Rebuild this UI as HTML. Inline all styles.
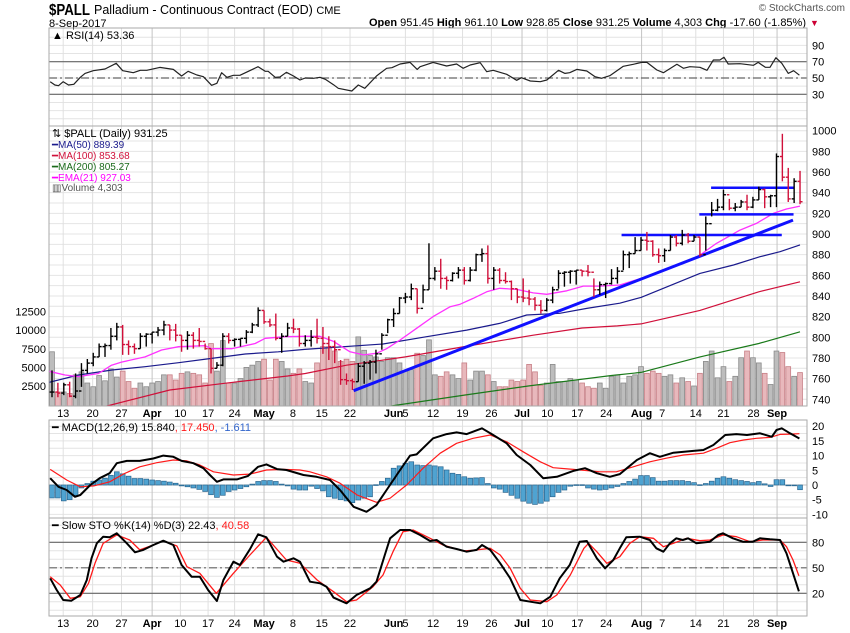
<!DOCTYPE html>
<html><head><meta charset="utf-8"><style>
body{margin:0;background:#fff}
svg{display:block;font-family:"Liberation Sans",sans-serif}
</style></head><body>
<svg id="chart" width="850" height="633" viewBox="0 0 850 633" xmlns="http://www.w3.org/2000/svg">
<defs>
<clipPath id="cpMain"><rect x="49" y="126" width="758" height="280"/></clipPath>
<clipPath id="cpRsi"><rect x="49" y="28" width="758" height="98"/></clipPath>
<clipPath id="cpMacd"><rect x="49" y="420" width="758" height="98"/></clipPath>
<clipPath id="cpSto"><rect x="49" y="518" width="758" height="98"/></clipPath>
</defs>
<text x="49" y="15" font-size="16" font-weight="bold" textLength="41" lengthAdjust="spacingAndGlyphs">$PALL</text>
<text x="94" y="14" font-size="12.5">Palladium - Continuous Contract (EOD) <tspan font-size="11">CME</tspan></text>
<text x="49" y="27" font-size="11">8-Sep-2017</text>
<text x="845" y="11" font-size="10" text-anchor="end" fill="#555">© StockCharts.com</text>
<text x="806" y="26" font-size="11" text-anchor="end"><tspan font-weight="bold">Open</tspan> 951.45 <tspan font-weight="bold">High</tspan> 961.10 <tspan font-weight="bold">Low</tspan> 928.85 <tspan font-weight="bold">Close</tspan> 931.25 <tspan font-weight="bold">Volume</tspan> 4,303 <tspan font-weight="bold">Chg</tspan> -17.60 (-1.85%)</text>
<text x="810" y="26" font-size="9" fill="#cc0033">▼</text>
<g id="grid"></g>
<g id="marks"></g>
<g id="frames"></g>
<g id="labels"></g>
</svg>
<script>
const closes=[747,746,754,743,748,768,775,781,791,792,801,810,793,791,789,801,803,805,807,812,807,802,797,802,797,796,789,770,773,801,797,798,799,805,812,826,815,812,799,801,809,808,794,797,800,799,794,791,788,759,758,757,772,775,776,784,802,817,823,838,839,847,828,846,857,864,857,855,862,865,855,865,880,881,857,865,855,854,847,839,838,837,831,826,836,846,862,863,864,865,864,863,846,851,852,857,864,880,881,884,894,893,880,879,884,897,891,899,893,897,880,910,923,926,938,925,926,931,926,933,943,936,937,975,955,934,951,931.25];
const highs=[768,756,756,757,765,775,779,785,794,794,809,814,812,797,794,804,804,805,810,816,812,813,802,806,805,809,794,789,776,804,804,799,799,807,814,829,826,818,823,804,814,818,809,802,807,818,810,801,797,778,765,760,775,777,778,788,804,818,828,839,843,852,847,851,891,868,876,859,863,868,868,868,881,886,889,868,867,863,855,847,857,846,839,836,838,849,865,864,865,865,865,870,857,854,853,866,868,884,883,897,897,902,894,886,886,899,899,904,901,899,897,917,931,934,943,934,930,933,938,936,946,944,938,978,997,964,954,961.1];
const lows=[742,742,744,742,741,752,765,772,781,781,788,797,783,783,784,789,791,794,801,802,797,796,786,788,789,791,788,765,770,772,794,791,791,794,804,810,813,810,797,785,801,804,791,791,791,794,784,778,775,754,754,749,757,755,759,765,788,804,810,823,833,836,823,833,846,855,847,846,854,857,851,854,864,873,852,846,852,852,836,833,834,831,826,823,825,833,847,849,852,851,859,859,839,841,838,851,852,865,867,881,884,884,878,872,873,884,888,889,891,893,878,884,917,922,923,923,922,926,923,925,933,925,926,926,951,931,930,928.85];
const volumes=[7100,1700,1700,1500,4000,4400,2900,2400,3900,3200,4800,3700,4500,3100,2200,2900,2400,2900,3100,4000,4000,3300,4200,4400,4200,4000,2900,8200,4500,8600,2900,2900,3500,5000,5300,5800,6100,3300,6100,5800,4800,4200,4800,3100,2900,5600,7800,7800,7200,5800,6100,5800,9100,7300,6600,6400,5800,6300,6300,5600,4500,4700,6900,6600,8700,4000,3800,4400,4000,3500,5600,3300,4500,4500,4000,3100,2400,2400,3300,3100,3300,5400,4400,2600,2900,5400,3100,3100,3500,3300,2900,2400,2200,2900,2200,3800,4000,2900,3800,4000,5100,4200,4500,4200,3800,4000,2900,3600,3100,2500,4200,5800,7200,3600,5100,3100,3800,6300,7200,6300,5600,4200,2700,7200,7000,5100,3800,4303];
const ma50=[[-1.2,755.4],[4.5,763.5],[10.2,768.3],[15.8,771.5],[21.5,775.4],[27.1,779.6],[32.8,783.8],[38.4,786],[42.9,788.3],[56.2,793.5],[63.6,800.6],[70.4,807],[76,813.5],[80.6,821.6],[86.2,823.2],[90.8,828],[96.4,833],[100,838.6],[110,861.9],[115.7,870],[120.2,878],[123.6,882.9],[127,889.4]];
const ma100=[[9,733],[20,749],[30,756],[40,762.5],[43,765],[50,773],[60,781],[70,791],[81.7,802],[90,809],[96,811],[100,813],[110,826],[120,844],[127,853.7]];
const ma200=[[57,733],[70,744],[81,753],[95,763],[100,766],[110,781],[120,794],[127,805.3]];
const ema21=[[-1.2,768],[2.2,763.5],[4.5,762],[7.9,765],[10.1,773],[11.8,776],[15.8,781],[18.6,787.7],[21.5,790.9],[26,791.9],[27.1,789],[30.5,789],[34.5,794],[36.2,799],[39.6,800.6],[42.9,801],[45.5,801],[47.8,796],[50.6,786],[52.9,783],[55.1,784.5],[56.8,789],[59.1,797.4],[61.9,808.7],[64.7,820],[67.6,829.6],[69.3,832],[71.5,837.7],[73.8,844],[76,847.4],[78.9,846.4],[81.7,843],[84,841.6],[87.4,845],[90.2,849.6],[93,849.6],[96.4,850.6],[100,857],[104.4,865.8],[107.8,873.2],[110,879.6],[112.8,890.9],[116.8,903.8],[119.6,910.3],[122.5,920],[124.7,924.2],[127,927]];
const trendLine=[[51.2,748.3],[125.8,913.5]];
const levelLines=[[96.7,123.9,899],[109.9,125.9,919],[111.9,125.9,944.8]];
const rsi=[[-0.3,45.5],[0.5,41.4],[1.1,40.6],[1.9,45.5],[2.8,41.4],[3.7,42.3],[4.8,50.8],[5.6,55.7],[7,59],[9,61],[10.9,68],[12,59],[13.8,56.5],[15,59.4],[16.1,59.4],[18.3,63],[20.6,60.6],[22,52.5],[23.1,58.2],[24.6,53.7],[25.7,51.6],[27.1,41],[28,43.5],[28.8,56.5],[29.7,50.8],[30.8,53.3],[31.9,53.3],[35,63.9],[36.2,58.2],[36.7,58.2],[37.9,50.8],[38.7,51.2],[39.8,57],[41,52.5],[42.1,47.5],[43,50],[44.4,49.6],[45.5,50.8],[46.4,48.4],[47.8,41.8],[48.6,37.4],[50.9,34],[52,41.4],[53.1,37.4],[55.1,52.5],[56.8,61.9],[57.7,62.6],[59.1,67.2],[60.8,69.2],[62,60.6],[62.5,63.9],[64.7,69.2],[67,64.7],[68.7,67.2],[69.8,61.9],[71,66],[72.7,68.8],[73.8,57.7],[74.9,59.4],[77.2,54.5],[78.9,47.2],[79.7,50.4],[81.2,46.3],[82.9,45.5],[84,47.5],[86,59.4],[87.1,55.7],[87.9,56.5],[89.1,60.6],[90.8,58.6],[92.2,51.6],[93.3,49.6],[94.7,52.8],[97,64.4],[98.7,66.8],[100.1,69.2],[101,69.2],[102.7,59.8],[103.8,56.5],[106.1,66.8],[107.2,61.9],[108.3,63.9],[110,63.1],[111.2,59.4],[112.3,72.1],[113.4,72.1],[114.1,75.4],[114.8,67.2],[116.8,67.6],[119.1,65.6],[119.9,69.2],[121.1,63.1],[121.9,63.1],[122.9,74.9],[123.9,68],[125,55.7],[125.9,59],[126.9,53.4]];
const macd=[[-0.3,2.3],[1.1,-0.6],[2.5,-1.7],[3.9,-4],[4.8,-3.4],[6.5,0],[8.1,2.3],[9.8,4],[11,7.4],[12.7,8.2],[14.9,8.2],[17.2,9],[18.9,10],[20.6,9.6],[22,8.2],[24,7.4],[25.7,5.7],[26.8,3.4],[28,1.1],[29.1,1.9],[31.4,1.9],[33.3,3.1],[35,6.2],[36.4,7],[38.2,5.4],[39.8,5.1],[42.7,3.4],[44.9,2.8],[47.2,1.7],[48.9,-1.7],[51.2,-7.4],[53.4,-9.1],[55.1,-6.8],[56.8,-1.7],[59.1,5.1],[60.8,10],[61.9,10.4],[64.7,15.9],[67,17.3],[68.7,17.9],[70.4,17.3],[73,19.3],[74.9,17],[77.2,14.2],[78.9,10.2],[81.2,6.8],[83.4,2.3],[85.7,2.8],[88.5,4.8],[90.5,5.7],[92.5,4],[94.7,2.8],[96.4,3.7],[97.6,5.7],[99.3,8.5],[101.5,10.8],[103.2,9.6],[105.5,11],[108.9,11.6],[110.6,11.9],[112.3,13.6],[114.3,17],[116.2,17.3],[118,17],[120.2,17.6],[122.2,16.4],[123,18.7],[123.9,19.3],[125.3,17.6],[126.9,15.8]];
const signal=[[-0.3,5.3],[2.5,1.7],[4.8,-0.6],[7.1,-0.3],[9.8,1.1],[12.1,3.7],[14.9,6.2],[17.8,7.6],[20.6,8.5],[22.9,8.2],[25.1,6.8],[27.4,4.5],[30.8,3.4],[33.6,3.7],[36.4,5.1],[39.3,5.3],[42.1,5.1],[43.8,4.5],[46.6,2.8],[48.9,0.6],[51.8,-3.4],[55.1,-5.9],[57.4,-4.5],[60.2,0],[63,5.7],[65.9,10.8],[68.7,14.2],[71.5,15.9],[74.4,17],[77.2,14.7],[80,11.3],[82.9,7.9],[85.1,5.9],[88.5,5.3],[91.4,4.8],[93,4.5],[95.8,4.5],[98.7,6.2],[101.5,7.9],[104.3,9.1],[107.2,10.2],[110.6,10.8],[112.8,12.5],[115.1,14.4],[117.4,15.3],[119.6,15.9],[121.9,16.2],[123.6,17.2],[125.3,17.3],[126.9,17.45]];
const histogram=[-4.4,-4.4,-5.4,-5,-3.5,-1,0.5,1.3,1.7,2.3,3.3,4.5,3.8,3,2.2,2.2,2,1.7,1.5,1.3,1,0.6,-0.3,-0.6,-1,-1.5,-2.2,-3.3,-4.2,-3.5,-2.2,-1.7,-1.2,-0.6,0.3,1.2,1.5,1.5,1.2,0.3,-0.3,-1.4,-1.7,-1.7,-0.4,-1.2,-2,-4,-4.5,-5,-5.4,-6,-5.1,-4.5,-4,0.1,1.2,2.3,5.7,6.5,7.4,7.9,6.8,6.6,6.8,6.5,6.2,5.1,4,3.6,2.8,2.3,2.4,2.5,0.5,-1,-1.4,-2.5,-3.5,-4.5,-5.5,-6.2,-6.6,-6.2,-5.5,-4,-2.5,-1.7,-0.4,0.1,0.1,-1,-1.4,-1.7,-1.5,-1,-0.5,0.5,1.2,2,3.2,3.2,2.5,1.3,1.3,1.5,1.5,1.5,1.2,0.8,0.1,0.5,1.3,2.3,2.8,2.3,1.8,1.5,1.2,0.8,1.2,0.4,-0.5,1.8,1.8,-0.2,-0.2,-1.6];
const stoK=[[-0.3,37.6],[0.8,23.9],[1.9,12.1],[3.3,11.3],[4.8,18],[5.9,35.6],[6.7,61.2],[7.6,78.8],[8.7,86.6],[9.8,85.9],[11,90.6],[12.7,78.8],[14.1,68.2],[15.5,71],[17.2,76.8],[18.9,81.9],[20.6,76.8],[22,53.3],[23.7,39.5],[25.1,39.5],[26.5,23.9],[28,10.9],[29.1,35.6],[30.8,57.2],[31.9,53.3],[33.6,71.8],[35,89.4],[36.4,85.9],[38.2,63.1],[39.3,57.2],[41,61.2],[42.1,57.2],[43.8,33.6],[45.5,31.8],[46.6,27.8],[47.8,14.9],[50,8.2],[51.7,18],[54,25.9],[55.1,33.6],[56.5,65],[57.4,84.7],[59.1,94.5],[60.8,94.5],[62.5,88.6],[64.2,81.5],[65.3,82.7],[67,74.8],[68.7,72.1],[70.4,68.9],[72.1,71],[73,76.8],[74.4,71],[76.1,55.3],[77.8,37.6],[79.5,12.1],[81.2,10.1],[82.9,8.2],[84.6,16],[86.2,37.6],[87.9,53.3],[89.6,80.7],[90.8,81.5],[92.5,61.2],[93.9,49.4],[95.3,59.2],[96.4,72.9],[97.5,85.9],[99.8,86.6],[101.5,82.7],[102.6,72.9],[103.8,68.9],[104.9,78.8],[106,84.7],[107.1,82.7],[108,84.7],[109.4,78.8],[111.7,80.7],[113.1,88.6],[113.9,90.6],[115.6,84.7],[117.3,80.7],[119,80.7],[120.2,84.7],[121.9,83.5],[123.6,82.7],[124.7,67],[126.8,22.4]];
const stoD=[[-0.3,39.5],[1.4,29.8],[3.1,14.1],[4.8,16],[6.2,31.8],[7.3,55.3],[8.7,78.8],[11,88.6],[13.2,82.7],[14.9,71],[17.2,76.8],[18.9,81.9],[21.2,75.6],[22.9,51.3],[25.1,43.5],[27.9,20],[30.8,43.5],[33.6,65],[36.4,85.9],[39.8,59.2],[42.1,55.3],[45,35.6],[47.8,21.9],[50,10.1],[51.7,12.1],[54.5,27.8],[56.2,41.5],[57.9,68.9],[59.6,92.5],[61.3,94.5],[64.2,84.7],[66.4,76.8],[69.8,69.8],[72.1,71],[74.4,72.9],[76.1,65],[77.8,49.4],[79.5,25.9],[81.2,12.1],[84,10.1],[85.7,18],[88,41.5],[90.3,72.9],[91.1,78.8],[92.5,68.9],[94.2,55.3],[96.4,63.1],[98.1,78.8],[99.8,86.6],[102.1,84.7],[103.8,74.8],[105.5,78.8],[107.7,84.7],[110,81.9],[111.7,82.7],[113.9,88.6],[116.2,86.6],[118.5,80.7],[120.7,82.7],[123.6,82.7],[124.7,74.8],[125.8,59.2],[126.8,40.6]];
const dateLabels=["13","20","27","Apr","10","17","24","May","8","15","22","Jun","5","12","19","26","Jul","10","17","24","Aug","7","14","21","28","Sep"];
const dateIdx=[1.9,6.9,11.8,17,21.8,26.5,31,36,40.9,45.8,50.6,58,60,64.7,69.7,74.6,79.8,84.1,89.2,94.1,100.1,103.6,109.3,114,119.1,123.1];
const priceTicks=[1000,980,960,940,920,900,880,860,840,820,800,780,760,740];
const volTicks=[12500,10000,7500,5000,2500];
const rsiTicks=[90,70,50,30];
const macdTicks=[20,15,10,5,0,-5,-10];
const stoTicks=[80,50,20];

const NS="http://www.w3.org/2000/svg";
const X=i=>52+5.89*i, PY=p=>130.7+(1000-p)*1.033, VY=v=>404.6-v*0.00744;
const RY=v=>78-(v-50)*0.815, MY=v=>485-v*2.94, SY=v=>567.8-(v-50)*0.85;
function mk(tag,attrs,parent){const e=document.createElementNS(NS,tag);for(const k in attrs)e.setAttribute(k,attrs[k]);parent.appendChild(e);return e;}
const grid=document.getElementById('grid'),marks=document.getElementById('marks'),frames=document.getElementById('frames'),labels=document.getElementById('labels');
const L=49,R=807;
function hgrid(y){const e=mk('line',{x1:L,x2:R,y1:y,y2:y,stroke:'#e4e4e4','stroke-width':1},grid);

}
for(let p=740;p<=1000;p+=10)hgrid(PY(p));
for(let v=0;v<=100;v+=10)if(RY(v)>28&&RY(v)<126)hgrid(RY(v));
for(let v=-10;v<=20;v+=2.5)hgrid(MY(v));
for(let v=0;v<=100;v+=10)hgrid(SY(v));
dateIdx.forEach((d,k)=>{if(dateLabels[k]==="Jun")return;const x=X(d);const strong=/[A-Z]/.test(dateLabels[k]);
[[28,126],[126,406],[420,518],[518,616]].forEach(r=>{const e=mk('line',{x1:x,x2:x,y1:r[0],y2:r[1],stroke:strong?'#c4c4c4':'#e0e0e0','stroke-width':1},grid);

});});
function refLine(y,dash,name){const e=mk('line',{x1:L,x2:R,y1:y,y2:y,stroke:'#666','stroke-width':1.2},marks);if(dash)e.setAttribute('stroke-dasharray','8,3,2,3');

}
refLine(RY(70),false,'rsi-overbought-line');refLine(RY(50),true,'rsi-midline');refLine(RY(30),false,'rsi-oversold-line');
refLine(SY(80),false,'sto-overbought-line');refLine(SY(50),true,'sto-midline');refLine(SY(20),false,'sto-oversold-line');
const gMain=mk('g',{'clip-path':'url(#cpMain)'},marks);
volumes.forEach((v,i)=>{const dn=i>0&&closes[i]<closes[i-1];const y=VY(v);
const e=mk('rect',{x:X(i)-2.4,y:y,width:4.8,height:406-y,fill:dn?'#e8b8bc':'#bdbdbd',stroke:dn?'#c77f86':'#8a8a8a','stroke-width':0.8},gMain);

});
function poly(pts,fx,fy,color,w,parent,name){const e=mk('polyline',{points:pts.map(p=>fx(p[0]).toFixed(1)+','+fy(p[1]).toFixed(1)).join(' '),fill:'none',stroke:color,'stroke-width':w,'stroke-linejoin':'round'},parent);

return e;}
poly(ma200,X,PY,'#1a7a1a',1.2,gMain,'ma200-line');
poly(ma100,X,PY,'#d0103a',1.2,gMain,'ma100-line');
poly(ma50,X,PY,'#1a1a8c',1.2,gMain,'ma50-line');
poly(ema21,X,PY,'#ff33ff',1.3,gMain,'ema21-line');
poly(trendLine,X,PY,'#1010ff',3,gMain,'support-trendline');
levelLines.forEach(l=>{const e=mk('line',{x1:X(l[0]),x2:X(l[1]),y1:PY(l[2]),y2:PY(l[2]),stroke:'#1010ff','stroke-width':2.5},gMain);

});
closes.forEach((c,i)=>{const dn=i>0&&c<closes[i-1];const col=dn?'#d0103a':'#000';const x=X(i);const o=i>0?closes[i-1]:c;
const g=mk('g',{stroke:col,'stroke-width':1.4},gMain);


mk('line',{x1:x,x2:x,y1:PY(highs[i]),y2:PY(lows[i])},g);
mk('line',{x1:x-2.5,x2:x,y1:PY(o),y2:PY(o)},g);
mk('line',{x1:x,x2:x+2.5,y1:PY(c),y2:PY(c)},g);});
const gR=mk('g',{'clip-path':'url(#cpRsi)'},marks);
poly(rsi,X,RY,'#222',1.2,gR,'rsi-line');
const gM=mk('g',{'clip-path':'url(#cpMacd)'},marks);
mk('line',{x1:L,x2:R,y1:MY(0),y2:MY(0),stroke:'#999','stroke-width':0.6},gM);
histogram.forEach((h,i)=>{const y0=MY(0),y1=MY(h);
const e=mk('rect',{x:X(i)-2.4,y:Math.min(y0,y1),width:4.8,height:Math.max(0.8,Math.abs(y1-y0)),fill:'#4fa3d1',stroke:'#2a6690','stroke-width':0.7},gM);

});
poly(signal,X,MY,'#ff1a1a',1.2,gM,'macd-signal-line');
poly(macd,X,MY,'#000',2,gM,'macd-line');
const gS=mk('g',{'clip-path':'url(#cpSto)'},marks);
poly(stoD,X,SY,'#ff1a1a',1.3,gS,'sto-d-line');
poly(stoK,X,SY,'#000',2,gS,'sto-k-line');
[[28,126,'rsi-panel'],[126,406,'price-panel'],[420,518,'macd-panel'],[518,616,'sto-panel']].forEach(r=>{const e=mk('rect',{x:L,y:r[0],width:R-L,height:r[1]-r[0],fill:'none',stroke:'#aaa','stroke-width':1},frames);

});
function txt(x,y,s,opts,name){const e=mk('text',Object.assign({x:x,y:y,'font-size':11,fill:'#000'},opts||{}),labels);e.textContent=s;

return e;}
priceTicks.forEach(p=>txt(812,PY(p)+4,String(p),{},'price-tick-label'));
volTicks.forEach(v=>txt(46,VY(v)+4,String(v),{'text-anchor':'end'},'volume-tick-label'));
rsiTicks.forEach(v=>txt(812,RY(v)+4,String(v),{},'rsi-tick-label'));
macdTicks.forEach(v=>txt(812,MY(v)+4,String(v),{},'macd-tick-label'));
stoTicks.forEach(v=>txt(812,SY(v)+4,String(v),{},'sto-tick-label'));
dateLabels.forEach((s,k)=>{const b=/[A-Z]/.test(s);[417,627].forEach(y=>txt(X(dateIdx[k]),y,s,{'text-anchor':'middle','font-weight':b?'bold':'normal'},'date-label'));});
txt(52,39,'▲ RSI(14) 53.36',{'font-size':11},'rsi-legend');
txt(52,137,'⇅ $PALL (Daily) 931.25',{'font-size':11},'price-legend');
txt(52,148,'━MA(50) 889.39',{'font-size':10,fill:'#1a1a8c'},'ma50-legend');
txt(52,159,'━MA(100) 853.68',{'font-size':10,fill:'#d0103a'},'ma100-legend');
txt(52,170,'━MA(200) 805.27',{'font-size':10,fill:'#1a6a1a'},'ma200-legend');
txt(52,181,'━EMA(21) 927.03',{'font-size':10,fill:'#ff00ff'},'ema21-legend');
txt(52,191,'▥Volume 4,303',{'font-size':10,fill:'#555'},'volume-legend');
const ml=txt(52,431,'━ MACD(12,26,9) 15.840',{'font-size':11},'macd-legend');
const t1=mk('tspan',{fill:'#ff1a1a'},ml);t1.textContent=', 17.450';
const t2=mk('tspan',{fill:'#3366cc'},ml);t2.textContent=', -1.611';
const sl=txt(52,529,'━ Slow STO %K(14) %D(3) 22.43',{'font-size':11},'sto-legend');
const t3=mk('tspan',{fill:'#ff1a1a'},sl);t3.textContent=', 40.58';
</script>
</body></html>
